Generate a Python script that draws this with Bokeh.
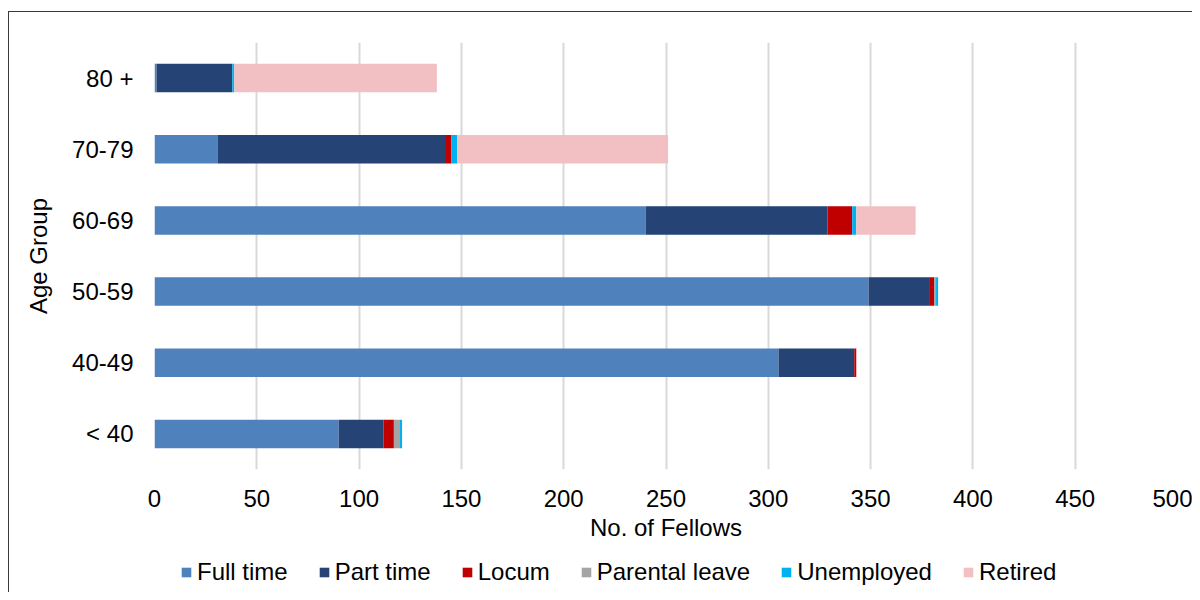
from bokeh.plotting import figure
from bokeh.models import Legend, LegendItem, FactorRange, Range1d
from bokeh.layouts import column
from bokeh.embed import file_html
from bokeh.resources import INLINE

age_groups = ["< 40", "40-49", "50-59", "60-69", "70-79", "80 +"]
full_time = [90, 305, 349, 240, 31, 1]
part_time = [22, 37, 30, 89, 111, 37]
locum = [5, 1, 2, 12, 3, 0]
parental_leave = [3, 0, 1, 0, 0, 0]
unemployed = [1, 0, 1, 2, 3, 1]
retired = [0, 0, 0, 29, 103, 99]

series = ["Full time", "Part time", "Locum", "Parental leave", "Unemployed", "Retired"]
colors = ["#4F81BD", "#254374", "#C00000", "#A5A5A5", "#00B0F0", "#F2BFC2"]
x_ticks = [0, 50, 100, 150, 200, 250, 300, 350, 400, 450, 500]

data = {
    "age": age_groups,
    "Full time": full_time,
    "Part time": part_time,
    "Locum": locum,
    "Parental leave": parental_leave,
    "Unemployed": unemployed,
    "Retired": retired,
}

FONT = "Liberation Sans"
FS = "24px"

p = figure(
    y_range=FactorRange(*age_groups, range_padding=0),
    x_range=(0, 500),
    width=1192, height=552,
    output_backend="svg", toolbar_location=None,
    min_border_left=154, min_border_right=15,
    min_border_top=42, min_border_bottom=83,
)
p.outline_line_color = None
p.background_fill_color = "white"
p.border_fill_alpha = 0

p.hbar_stack(series, y="age", height=0.40, color=colors, source=data, line_color=None)

# grid
p.ygrid.grid_line_color = None
p.xgrid.grid_line_color = "#D9D9D9"
p.xgrid.grid_line_width = 2
p.xaxis.ticker = x_ticks

# axes
for ax in (p.xaxis[0], p.yaxis[0]):
    ax.axis_line_color = None
    ax.major_tick_line_color = None
    ax.minor_tick_line_color = None
    ax.major_tick_out = 0
    ax.major_tick_in = 0
    ax.major_label_text_font = FONT
    ax.major_label_text_font_size = FS
    ax.major_label_text_color = "#000000"
    ax.axis_label_text_font = FONT
    ax.axis_label_text_font_size = FS
    ax.axis_label_text_font_style = "normal"
    ax.axis_label_text_color = "#000000"

p.xaxis.axis_label = "No. of Fellows"
p.xaxis.major_label_standoff = 20
p.xaxis.axis_label_standoff = 4
p.yaxis.axis_label = "Age Group"
p.yaxis.major_label_standoff = 21
p.yaxis.axis_label_standoff = 17

# legend strip: same stacked series with zero bar height (nothing drawn),
# so only Bokeh's Legend is visible here
lg = figure(
    width=1192, height=40,
    x_range=Range1d(0, 500), y_range=FactorRange(*age_groups),
    x_axis_type=None, y_axis_type=None,
    output_backend="svg", toolbar_location=None,
    min_border_left=0, min_border_right=0, min_border_top=0, min_border_bottom=0,
)
lg.outline_line_color = None
lg.background_fill_alpha = 0
lg.border_fill_alpha = 0
legend_renderers = lg.hbar_stack(series, y="age", height=0, color=colors,
                                 source=data, line_color=None)

items = [LegendItem(label=s, renderers=[r]) for s, r in zip(series, legend_renderers)]
legend = Legend(items=items, orientation="horizontal", location="left")
legend.label_text_font = FONT
legend.label_text_font_size = FS
legend.label_text_color = "#000000"
legend.glyph_width = 12
legend.glyph_height = 12
legend.label_standoff = 5
legend.spacing = 30
legend.padding = 0
legend.margin = 26
legend.border_line_color = None
legend.background_fill_alpha = 0
lg.add_layout(legend, "center")

layout = column(p, lg, spacing=0)
layout.styles = {
    "background-color": "white",
    "background-image": "linear-gradient(#3a3a3a, #3a3a3a), linear-gradient(#3a3a3a, #3a3a3a)",
    "background-size": "1px 100%, 100% 1px",
    "background-position": "8px 11px, 8px 11px",
    "background-repeat": "no-repeat",
}

open("out.html", "w").write(file_html(layout, INLINE))
